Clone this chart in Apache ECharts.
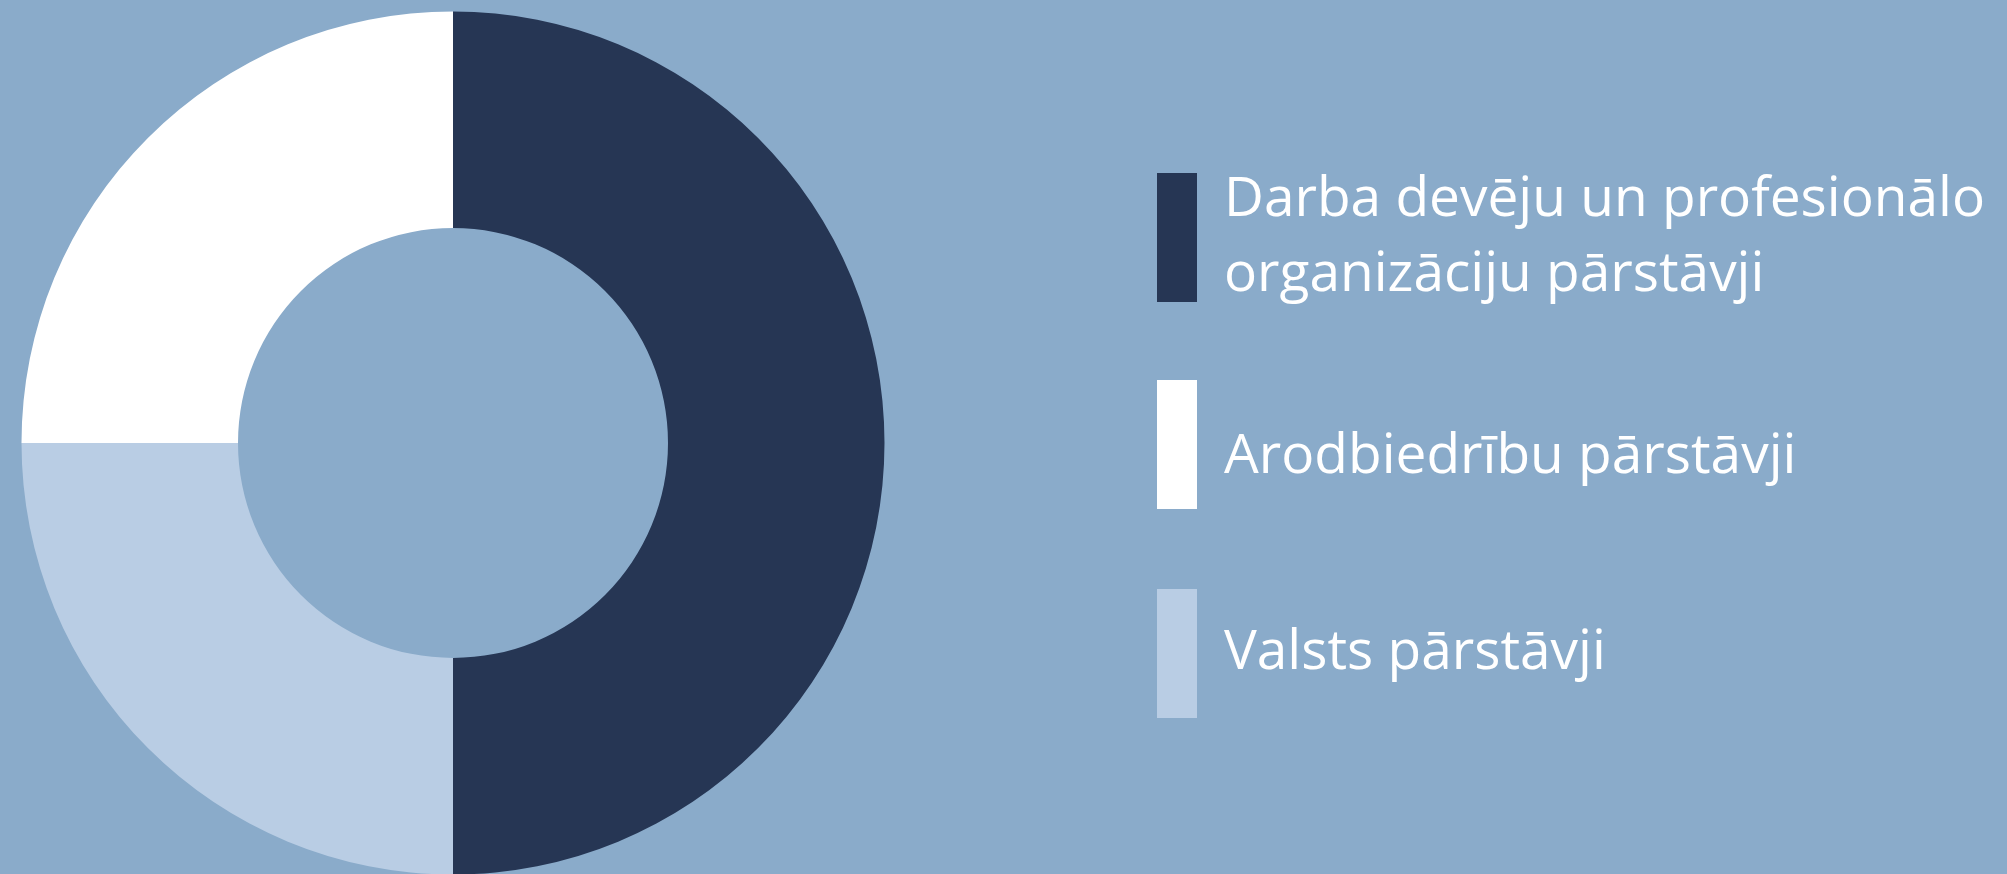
<!DOCTYPE html>
<html>
<head>
<meta charset="utf-8">
<script src="https://cdn.jsdelivr.net/npm/echarts@6/dist/echarts.min.js"></script>
<style>
  html, body { margin: 0; padding: 0; background: #8aabca; }
  #chart { width: 2007px; height: 874px; }
</style>
</head>
<body>
<div id="chart"></div>
<script>
// kategorijas un vērtības (%)
var categories = ['Darba devēju un profesionālo organizāciju pārstāvji', 'Arodbiedrību pārstāvji', 'Valsts pārstāvji']
var legendLabels = ['Darba devēju un profesionālo\norganizāciju pārstāvji', 'Arodbiedrību pārstāvji', 'Valsts pārstāvji']
var values = [50, 25, 25]
var colors = ['#263654', '#ffffff', '#b9cde4']

var chart = echarts.init(document.getElementById('chart'))

var pieData = []
for (var i = 0; i < categories.length; i++) {
  pieData.push({ name: categories[i], value: values[i], itemStyle: { color: colors[i] } })
}

// viena leģenda katram ierakstam, lai teksts būtu kā oriģinālā
var legendTops = [162.5, 380, 589]
var textShift = [0, 25, 0]
var legends = []
for (var j = 0; j < categories.length; j++) {
  legends.push({
    orient: 'vertical',
    left: 1157,
    top: legendTops[j],
    padding: 0,
    itemWidth: 40,
    itemHeight: 129,
    icon: 'rect',
    selectedMode: false,
    data: [categories[j]],
    formatter: function (name) {
      var k = categories.indexOf(name)
      if (textShift[k] > 0) {
        return '{s|' + legendLabels[k] + '}'
      }
      return legendLabels[k]
    },
    textStyle: {
      color: '#ffffff',
      fontFamily: 'Open Sans',
      fontSize: 55,
      lineHeight: 75,
      padding: [0, 0, 0, 22],
      rich: {
        s: {
          color: '#ffffff',
          fontFamily: 'Open Sans',
          fontSize: 55,
          lineHeight: 75,
          padding: [textShift[j], 0, 0, 0]
        }
      }
    }
  })
}

chart.setOption({
  backgroundColor: '#8aabca',
  animation: false,
  legend: legends,
  series: [
    {
      type: 'pie',
      center: [453, 443],
      radius: [215, 431.5],
      startAngle: -90,
      clockwise: false,
      label: { show: false },
      labelLine: { show: false },
      emphasis: { disabled: true },
      data: pieData
    }
  ]
})
</script>
</body>
</html>
